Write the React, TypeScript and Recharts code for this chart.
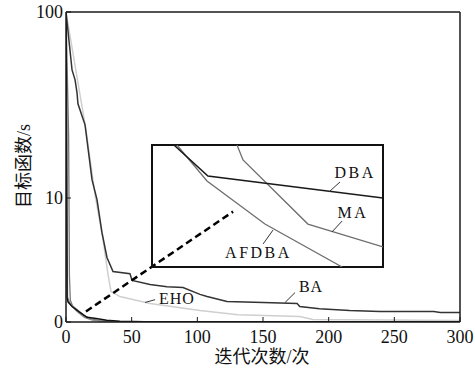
import React from 'react';
import { LineChart, Line, XAxis, YAxis, ReferenceLine, ReferenceDot, ReferenceArea } from 'recharts';

const SERIF = '"Liberation Serif", "Times New Roman", serif';
const CJK = '"Liberation Serif", "Noto Sans CJK SC", serif';

// ---- axis ticks ----
const xTicks = [0, 50, 100, 150, 200, 250, 300];
const yTickValues = [0, 40, 100];
const yTickLabels = ['0', '10', '100'];
const yRightTicks = [0, 10, 20, 30, 40, 50, 60, 70, 80, 90, 100];

// ---- main series (iteration, objective on plotted scale) ----
const baIter = [0, 4.6, 6.9, 8.4, 9.1, 14.5, 19.8, 23.6, 27.4, 31.2, 35.8, 48.7, 50.3, 64, 76.9, 89.1, 102, 107.4, 122.6, 150, 176, 178, 193, 216, 239, 280, 285, 300];
const baValue = [100, 81.3, 78.1, 73.9, 70.4, 63.6, 45.9, 39.5, 28.8, 20.8, 16.3, 15.6, 13.4, 12.1, 11.4, 11.1, 8.9, 8.2, 6.6, 6.3, 6.0, 5.0, 4.3, 3.7, 3.4, 3.4, 3.1, 3.1];

const ehoIter = [0, 15.2, 22.1, 28.2, 32, 34.3, 41.1, 64, 102, 131, 178, 188, 300];
const ehoValue = [100, 62, 41.1, 26.6, 15.3, 9.8, 8.2, 6.0, 3.7, 2.3, 1.8, 0.8, 0.5];

const dbaIter = [0, 0.5, 0.8, 1.5, 4.6, 10, 16, 23, 31, 41, 60, 300];
const dbaValue = [100, 60, 8, 6.5, 5, 3.3, 1.5, 1.1, 0.6, 0.25, 0.1, 0.1];

const afdbaIter = [0, 0.6, 1.2, 3, 8, 14, 20, 28, 300];
const afdbaValue = [100, 40, 8, 6, 3.5, 1.5, 0.6, 0.2, 0.1];

const maIter = [0, 2, 2.6, 3.3, 5, 9, 14, 19, 26, 40, 300];
const maValue = [100, 60, 15, 7, 5.2, 3.8, 2, 1, 0.4, 0.15, 0.1];

// dashed pointer to the inset
const pointerIter = [15.2, 127.2];
const pointerValue = [3.4, 35.6];

// main labels: [iter, value] of text centre and leader ends
const ehoLabelPos = [84.5, 7.6];
const ehoLeader = [[60.2, 6.3], [67.8, 7.2]];
const baLabelPos = [186.6, 11.4];
const baLeader = [[166.8, 6.3], [174.4, 9.5]];

// ---- inset series (zoomed window, percent of window) ----
const insetDbaX = [9.5, 24.2, 100];
const insetDbaY = [100, 74.6, 56.6];
const insetAfdbaX = [10.8, 23.8, 48.9, 82.3];
const insetAfdbaY = [100, 70.5, 35.2, 0];
const insetMaX = [36.8, 39.4, 67.5, 100];
const insetMaY = [100, 87.7, 35.2, 16.4];

const insetDbaLabel = [87.9, 77.9];
const insetDbaLeader = [[76.6, 61.5], [81.4, 69.7]];
const insetMaLabel = [87.0, 45.1];
const insetMaLeader = [[77.9, 28.7], [82.3, 37.7]];
const insetAfdbaLabel = [46.1, 12.3];
const insetAfdbaLeader = [[52.4, 30.3], [48.1, 18.9]];

const zip = (xs: number[], ys: number[]) => xs.map((x, i) => ({ x, y: ys[i] }));
const seg = (pts: number[][]) => pts.map((p) => ({ x: p[0], y: p[1] }));

const AX = '#1a1a1a';

const BottomTick = (props: any) => {
  const { x, y, payload } = props;
  return (
    <g>
      <line x1={x} y1={y} x2={x} y2={y - 5} stroke={AX} strokeWidth={1} />
      <text x={x} y={y + 21} textAnchor="middle" fontSize={18} fontFamily={SERIF} fill="#111">
        {payload.value}
      </text>
    </g>
  );
};
const TopTick = (props: any) => {
  const { x, y } = props;
  return <line x1={x} y1={y} x2={x} y2={y + 5} stroke={AX} strokeWidth={1} />;
};
const LeftTick = (props: any) => {
  const { x, y, payload } = props;
  const idx = yTickValues.indexOf(payload.value);
  return (
    <g>
      <line x1={x} y1={y} x2={x + 5} y2={y} stroke={AX} strokeWidth={1} />
      <text x={x - 3} y={y + 6} textAnchor="end" fontSize={18} fontFamily={SERIF} fill="#111">
        {idx >= 0 ? yTickLabels[idx] : ''}
      </text>
    </g>
  );
};
const RightTick = (props: any) => {
  const { x, y } = props;
  return <line x1={x} y1={y} x2={x - 5} y2={y} stroke={AX} strokeWidth={1} />;
};

const textShape = (label: string, size: number, spacing: number) => (p: any) => (
  <text
    x={p.cx}
    y={p.cy}
    dy="0.35em"
    textAnchor="middle"
    fontSize={size}
    fontFamily={SERIF}
    letterSpacing={spacing}
    fill="#111"
  >
    {label}
  </text>
);

export default function App() {
  return (
    <div style={{ position: 'absolute', left: 0, top: 0, width: 475, height: 375, background: '#fff' }}>
      <LineChart width={475} height={375} margin={{ top: 11, right: 14, bottom: 0, left: 0 }}>
        <XAxis
          xAxisId={0}
          type="number"
          dataKey="x"
          domain={[0, 300]}
          ticks={xTicks}
          allowDataOverflow
          height={53}
          tickSize={0}
          tickMargin={0}
          tickLine={false}
          axisLine={{ stroke: AX, strokeWidth: 1.5 }}
          tick={<BottomTick />}
          interval={0}
        />
        <XAxis
          xAxisId="top"
          orientation="top"
          type="number"
          domain={[0, 300]}
          ticks={xTicks.slice(1, -1)}
          height={1}
          tickSize={0}
          tickMargin={0}
          tickLine={false}
          axisLine={{ stroke: AX, strokeWidth: 1.5 }}
          tick={<TopTick />}
          interval={0}
        />
        <YAxis
          yAxisId={0}
          type="number"
          domain={[0, 100]}
          ticks={yTickValues}
          allowDataOverflow
          width={66}
          tickSize={0}
          tickMargin={0}
          tickLine={false}
          axisLine={{ stroke: AX, strokeWidth: 1.5 }}
          tick={<LeftTick />}
          interval={0}
        />
        <YAxis
          yAxisId="right"
          orientation="right"
          type="number"
          domain={[0, 100]}
          ticks={yRightTicks}
          width={1}
          tickSize={0}
          tickMargin={0}
          tickLine={false}
          axisLine={{ stroke: AX, strokeWidth: 1.5 }}
          tick={<RightTick />}
          interval={0}
        />
        <Line data={zip(ehoIter, ehoValue)} dataKey="y" type="linear" stroke="#cfcfcf" strokeWidth={1.5} dot={false} isAnimationActive={false} />
        <Line data={zip(maIter, maValue)} dataKey="y" type="linear" stroke="#777" strokeWidth={1.3} dot={false} isAnimationActive={false} />
        <Line data={zip(afdbaIter, afdbaValue)} dataKey="y" type="linear" stroke="#8c8c8c" strokeWidth={1.3} dot={false} isAnimationActive={false} />
        <Line data={zip(dbaIter, dbaValue)} dataKey="y" type="linear" stroke="#111" strokeWidth={1.5} dot={false} isAnimationActive={false} />
        <Line data={zip(baIter, baValue)} dataKey="y" type="linear" stroke="#333" strokeWidth={1.5} dot={false} isAnimationActive={false} />
        <ReferenceLine
          segment={zip(pointerIter, pointerValue)}
          stroke="#000"
          strokeWidth={2.5}
          strokeDasharray="7 4"
        />
        <ReferenceLine segment={seg(ehoLeader)} stroke="#333" strokeWidth={1} />
        <ReferenceLine segment={seg(baLeader)} stroke="#333" strokeWidth={1} />
        <ReferenceDot x={ehoLabelPos[0]} y={ehoLabelPos[1]} r={1} shape={textShape('EHO', 16, 1)} />
        <ReferenceDot x={baLabelPos[0]} y={baLabelPos[1]} r={1} shape={textShape('BA', 16, 1)} />
      </LineChart>

      <div
        style={{
          position: 'absolute',
          left: 262,
          top: 346,
          transform: 'translateX(-50%)',
          fontFamily: CJK,
          fontSize: 18,
          color: '#111',
          whiteSpace: 'nowrap',
          lineHeight: '22px',
        }}
      >
        迭代次数/次
      </div>
      <div
        style={{
          position: 'absolute',
          left: 24,
          top: 166,
          transform: 'translate(-50%, -50%) rotate(-90deg)',
          fontFamily: CJK,
          fontSize: 18,
          color: '#111',
          whiteSpace: 'nowrap',
          lineHeight: '22px',
        }}
      >
        目标函数/s
      </div>

      <div style={{ position: 'absolute', left: 150, top: 143 }}>
        <LineChart width={235} height={126} margin={{ top: 2, right: 2, bottom: 2, left: 2 }}>
          <XAxis type="number" dataKey="x" domain={[0, 100]} hide allowDataOverflow />
          <YAxis type="number" domain={[0, 100]} hide allowDataOverflow />
          <ReferenceArea x1={0} x2={100} y1={0} y2={100} fill="none" stroke="#111" strokeWidth={2} />
          <Line data={zip(insetMaX, insetMaY)} dataKey="y" type="linear" stroke="#6e6e6e" strokeWidth={1.3} dot={false} isAnimationActive={false} />
          <Line data={zip(insetAfdbaX, insetAfdbaY)} dataKey="y" type="linear" stroke="#6e6e6e" strokeWidth={1.3} dot={false} isAnimationActive={false} />
          <Line data={zip(insetDbaX, insetDbaY)} dataKey="y" type="linear" stroke="#1a1a1a" strokeWidth={1.5} dot={false} isAnimationActive={false} />
          <ReferenceLine segment={seg(insetDbaLeader)} stroke="#333" strokeWidth={1} />
          <ReferenceLine segment={seg(insetMaLeader)} stroke="#333" strokeWidth={1} />
          <ReferenceLine segment={seg(insetAfdbaLeader)} stroke="#333" strokeWidth={1} />
          <ReferenceDot x={insetDbaLabel[0]} y={insetDbaLabel[1]} r={1} shape={textShape('DBA', 16, 2.5)} />
          <ReferenceDot x={insetMaLabel[0]} y={insetMaLabel[1]} r={1} shape={textShape('MA', 16, 2.5)} />
          <ReferenceDot x={insetAfdbaLabel[0]} y={insetAfdbaLabel[1]} r={1} shape={textShape('AFDBA', 16, 2.5)} />
        </LineChart>
      </div>
    </div>
  );
}
